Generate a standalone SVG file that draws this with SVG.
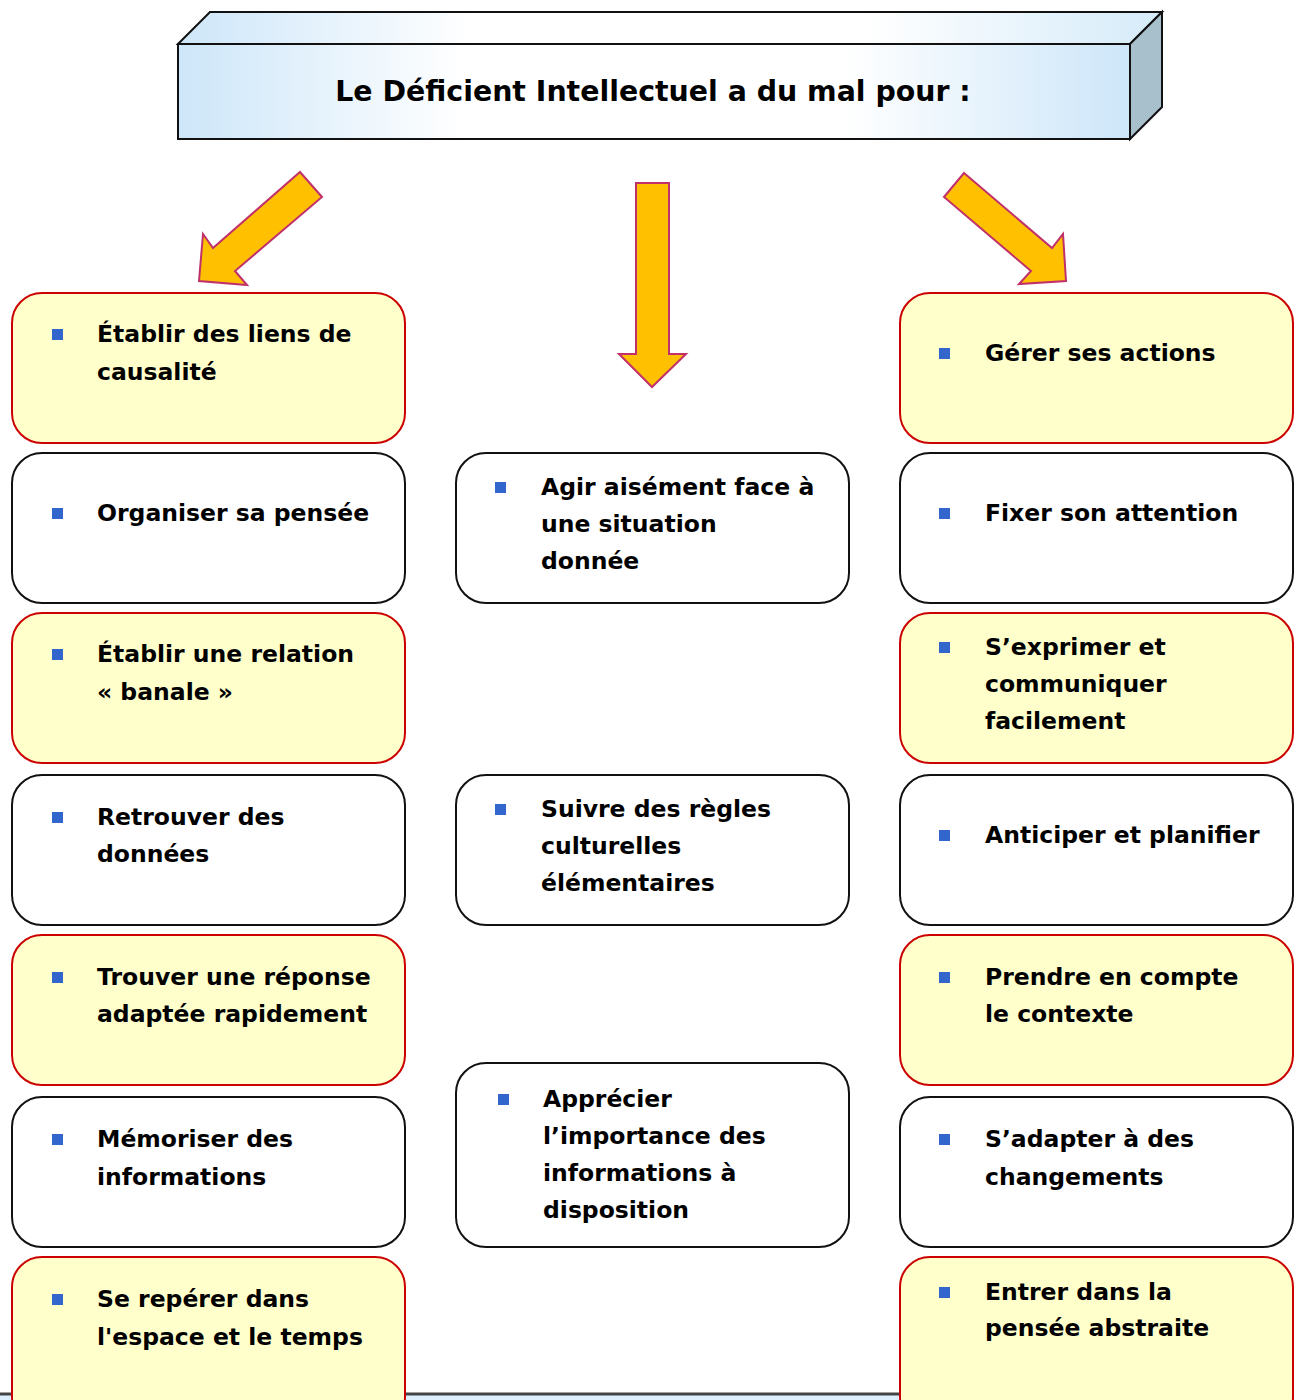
<svg xmlns="http://www.w3.org/2000/svg" width="1300" height="1400" viewBox="0 0 1300 1400">
<defs>
<linearGradient id="front" x1="0" y1="0" x2="1" y2="0">
<stop offset="0" stop-color="#cde6f9"/>
<stop offset="0.3" stop-color="#ffffff"/>
<stop offset="0.7" stop-color="#ffffff"/>
<stop offset="1" stop-color="#cde6f9"/>
</linearGradient>
<linearGradient id="top" x1="0" y1="0" x2="1" y2="0">
<stop offset="0" stop-color="#cde6f9"/>
<stop offset="0.3" stop-color="#ffffff"/>
<stop offset="0.7" stop-color="#ffffff"/>
<stop offset="1" stop-color="#d5ebf9"/>
</linearGradient>
</defs>
<style>
.y{fill:#ffffcc;stroke:#cc0000;stroke-width:2}
.w{fill:#ffffff;stroke:#111111;stroke-width:2}
.t{font-family:"DejaVu Sans",Verdana,sans-serif;font-weight:bold;font-size:23.5px;fill:#000}
.b{fill:#3366cc}
.arr{fill:#ffc000;stroke:#c0306a;stroke-width:2;stroke-linejoin:miter}
.h{font-family:"DejaVu Sans",Verdana,sans-serif;font-weight:bold;font-size:28.4px;fill:#000}
</style>
<rect width="1300" height="1400" fill="#ffffff"/>

<!-- bottom strip (partly hidden) -->
<g id="bottom-strip">
<rect x="0" y="1394" width="1288" height="8" fill="#dcefff"/>
<line x1="0" y1="1394" x2="1288" y2="1394" stroke="#444" stroke-width="3"/>
</g>

<g id="header">
<polygon points="178,44 210,12 1162,12 1130,44" fill="url(#top)" stroke="#111" stroke-width="2"/>
<polygon points="1130,44 1162,12 1162,107 1130,139" fill="#a8bfcc" stroke="#111" stroke-width="2"/>
<rect x="178" y="44" width="952" height="95" fill="url(#front)" stroke="#111" stroke-width="2"/>
<text class="h" x="653" y="101" text-anchor="middle">Le Déficient Intellectuel a du mal pour :</text>
</g>

<g id="connectors">
<polygon class="arr" points="300,172 322,197 235,271 247,285 199,281 203,234 213,248"/>
<polygon class="arr" points="636,183 669,183 669,354 686,354 652,387 619,354 636,354"/>
<polygon class="arr" points="964,173 1052,248 1063,234 1066,281 1019,284 1031,271 944,197"/>
</g>

<!-- Left column -->
<g id="l1"><rect class="y" x="12" y="293" width="393" height="150" rx="30"/><rect class="b" x="52" y="329" width="11" height="11"/><text class="t" x="97" y="342">Établir des liens de</text><text class="t" x="97" y="380">causalité</text></g>
<g id="l2"><rect class="w" x="12" y="453" width="393" height="150" rx="30"/><rect class="b" x="52" y="508" width="11" height="11"/><text class="t" x="97" y="521">Organiser sa pensée</text></g>
<g id="l3"><rect class="y" x="12" y="613" width="393" height="150" rx="30"/><rect class="b" x="52" y="649" width="11" height="11"/><text class="t" x="97" y="662">Établir une relation</text><text class="t" x="97" y="700">« banale »</text></g>
<g id="l4"><rect class="w" x="12" y="775" width="393" height="150" rx="30"/><rect class="b" x="52" y="812" width="11" height="11"/><text class="t" x="97" y="825">Retrouver des</text><text class="t" x="97" y="862">données</text></g>
<g id="l5"><rect class="y" x="12" y="935" width="393" height="150" rx="30"/><rect class="b" x="52" y="972" width="11" height="11"/><text class="t" x="97" y="985">Trouver une réponse</text><text class="t" x="97" y="1022">adaptée rapidement</text></g>
<g id="l6"><rect class="w" x="12" y="1097" width="393" height="150" rx="30"/><rect class="b" x="52" y="1134" width="11" height="11"/><text class="t" x="97" y="1147">Mémoriser des</text><text class="t" x="97" y="1185">informations</text></g>
<g id="l7"><rect class="y" x="12" y="1257" width="393" height="170" rx="30"/><rect class="b" x="52" y="1294" width="11" height="11"/><text class="t" x="97" y="1307">Se repérer dans</text><text class="t" x="97" y="1345">l'espace et le temps</text></g>

<!-- Middle column -->
<g id="m1"><rect class="w" x="456" y="453" width="393" height="150" rx="30"/><rect class="b" x="495" y="482" width="11" height="11"/><text class="t" x="541" y="495">Agir aisément face à</text><text class="t" x="541" y="532">une situation</text><text class="t" x="541" y="569">donnée</text></g>
<g id="m2"><rect class="w" x="456" y="775" width="393" height="150" rx="30"/><rect class="b" x="495" y="804" width="11" height="11"/><text class="t" x="541" y="817">Suivre des règles</text><text class="t" x="541" y="854">culturelles</text><text class="t" x="541" y="891">élémentaires</text></g>
<g id="m3"><rect class="w" x="456" y="1063" width="393" height="184" rx="30"/><rect class="b" x="498" y="1094" width="11" height="11"/><text class="t" x="543" y="1107">Apprécier</text><text class="t" x="543" y="1144">l’importance des</text><text class="t" x="543" y="1181">informations à</text><text class="t" x="543" y="1218">disposition</text></g>

<!-- Right column -->
<g id="r1"><rect class="y" x="900" y="293" width="393" height="150" rx="30"/><rect class="b" x="939" y="348" width="11" height="11"/><text class="t" x="985" y="361">Gérer ses actions</text></g>
<g id="r2"><rect class="w" x="900" y="453" width="393" height="150" rx="30"/><rect class="b" x="939" y="508" width="11" height="11"/><text class="t" x="985" y="521">Fixer son attention</text></g>
<g id="r3"><rect class="y" x="900" y="613" width="393" height="150" rx="30"/><rect class="b" x="939" y="642" width="11" height="11"/><text class="t" x="985" y="655">S’exprimer et</text><text class="t" x="985" y="692">communiquer</text><text class="t" x="985" y="729">facilement</text></g>
<g id="r4"><rect class="w" x="900" y="775" width="393" height="150" rx="30"/><rect class="b" x="939" y="830" width="11" height="11"/><text class="t" x="985" y="843">Anticiper et planifier</text></g>
<g id="r5"><rect class="y" x="900" y="935" width="393" height="150" rx="30"/><rect class="b" x="939" y="972" width="11" height="11"/><text class="t" x="985" y="985">Prendre en compte</text><text class="t" x="985" y="1022">le contexte</text></g>
<g id="r6"><rect class="w" x="900" y="1097" width="393" height="150" rx="30"/><rect class="b" x="939" y="1134" width="11" height="11"/><text class="t" x="985" y="1147">S’adapter à des</text><text class="t" x="985" y="1185">changements</text></g>
<g id="r7"><rect class="y" x="900" y="1257" width="393" height="170" rx="30"/><rect class="b" x="939" y="1287" width="11" height="11"/><text class="t" x="985" y="1300">Entrer dans la</text><text class="t" x="985" y="1336">pensée abstraite</text></g>
</svg>
